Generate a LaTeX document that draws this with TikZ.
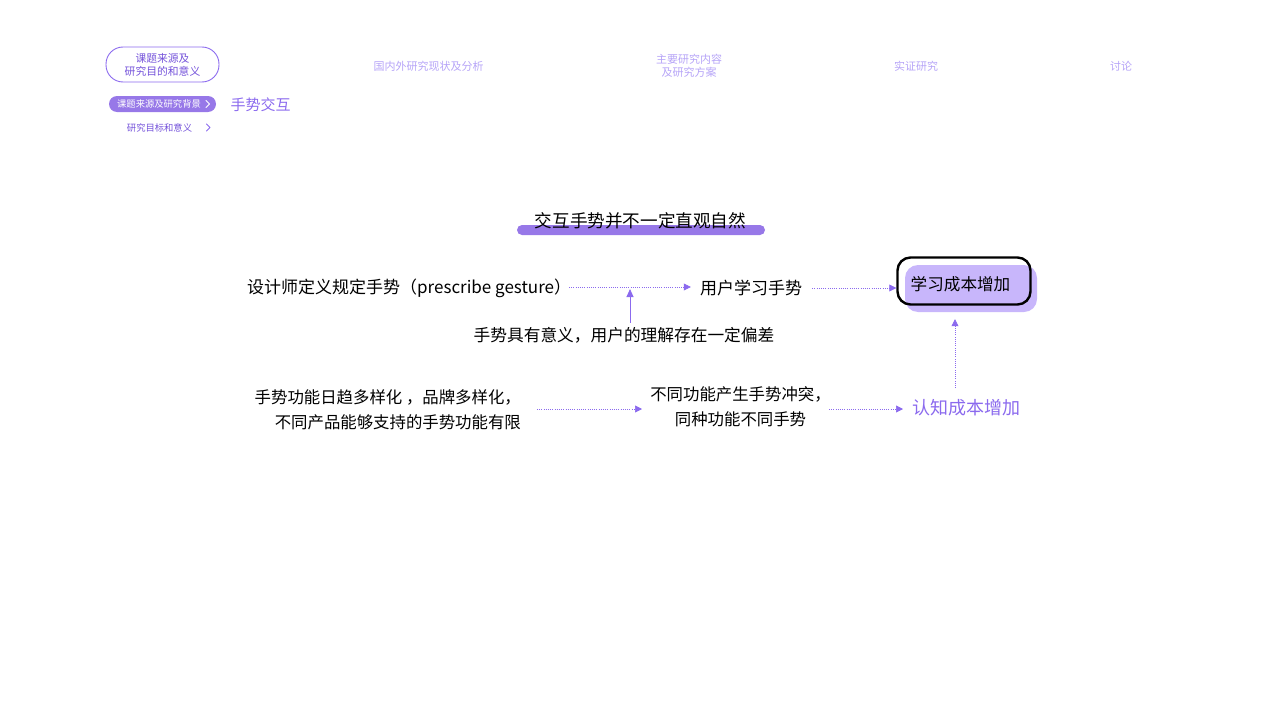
\documentclass[tikz,border=0pt]{standalone}
\usepackage{fontspec}
\setmainfont{Noto Sans CJK SC}
\usetikzlibrary{arrows.meta}
\definecolor{pmain}{HTML}{8B6AEE}
\definecolor{pdark}{HTML}{7452DA}
\definecolor{plight}{HTML}{B6A4F7}
\definecolor{pbar}{HTML}{9778E8}
\definecolor{pfill}{HTML}{C8B6FB}
\tikzset{
  navtxt/.style={text=plight, font=\fontsize{11}{13}\selectfont, align=center, inner sep=0pt},
  bodytxt/.style={text=black, font=\fontsize{17}{25}\selectfont, inner sep=0pt},
  dotarrow/.style={draw=pmain, line width=0.7pt, dash pattern=on 0.8pt off 1.4pt, -{Triangle[length=7pt,width=7pt]}},
  solidarrow/.style={draw=pmain, line width=0.9pt, -{Triangle[length=8pt,width=7pt]}},
  chev/.style={draw=pmain, line width=1pt, line cap=round, line join=round}
}
\begin{document}
\begin{tikzpicture}[x=1pt,y=-1pt]
\useasboundingbox (0,0) rectangle (1280,720);
% top navigation
\node[draw=pmain, line width=0.9pt, rounded corners=17pt, minimum width=113pt, minimum height=35pt, text=pdark, font=\fontsize{10.8}{13}\selectfont, align=center, inner sep=0pt] (nav1) at (162.5,64.5) {课题来源及\\研究目的和意义};
\node[navtxt] (nav2) at (428.5,66) {国内外研究现状及分析};
\node[navtxt] (nav3) at (689,66) {主要研究内容\\及研究方案};
\node[navtxt] (nav4) at (916,66) {实证研究};
\node[navtxt] (nav5) at (1121,66) {讨论};
% sub navigation
\node[fill=pbar, rounded corners=8pt, minimum width=107pt, minimum height=16pt, inner sep=0pt] (sub1) at (162.5,104) {};
\node[text=white, font=\fontsize{9.3}{11}\selectfont, inner sep=0pt] (sub1t) at (159,104) {课题来源及研究背景};
\draw[draw=white, line width=1pt, line cap=round, line join=round] (206,100.5) -- (209.5,104) -- (206,107.5);
\node[text=pmain, font=\fontsize{15}{18}\selectfont, inner sep=0pt] (topic) at (260.5,105) {手势交互};
\node[text=pdark, font=\fontsize{9.3}{11}\selectfont, inner sep=0pt] (sub2) at (159.5,127.5) {研究目标和意义};
\draw[chev] (206.5,124) -- (210,127.5) -- (206.5,131);
% title
\node[fill=pbar, rounded corners=5pt, minimum width=248pt, minimum height=10pt, inner sep=0pt] (bar) at (641,230) {};
\node[bodytxt, font=\fontsize{17.6}{25}\selectfont] (title) at (640.5,221) {交互手势并不一定直观自然};
% row 1
\node[bodytxt, anchor=west] (designer) at (247,288) {设计师定义规定手势（prescribe gesture）};
\node[bodytxt] (learn) at (751,288) {用户学习手势};
\node[fill=pfill, rounded corners=13pt, minimum width=132pt, minimum height=47pt, inner sep=0pt] (shadow) at (971,288.5) {};
\node[draw=black, line width=2.4pt, rounded corners=13pt, minimum width=133pt, minimum height=47pt, inner sep=0pt] (cost) at (964,281) {};
\node[bodytxt, font=\fontsize{16.6}{25}\selectfont, anchor=west] (costt) at (910.5,284) {学习成本增加};
\coordinate (r1) at (569,287);
\draw[dotarrow, shorten >=9pt] (r1) -- (r1 -| learn.west);
\draw[dotarrow, shorten <=10pt] (learn.east) -- (learn.east -| cost.west);
% note with up arrow
\node[bodytxt, font=\fontsize{16.7}{25}\selectfont] (note) at (624,335) {手势具有意义，用户的理解存在一定偏差};
\coordinate (junction) at (630,287);
\draw[solidarrow, shorten <=4pt, shorten >=2pt] (note.north -| junction) -- (junction);
% row 2
\node[bodytxt, font=\fontsize{16.4}{25}\selectfont, align=right, anchor=east] (variety) at (521,410) {手势功能日趋多样化 ，品牌多样化，\\不同产品能够支持的手势功能有限};
\node[bodytxt, font=\fontsize{16.4}{25}\selectfont, align=center] (conflict) at (740.5,407) {不同功能产生手势冲突，\\同种功能不同手势};
\node[text=pmain, font=\fontsize{18}{22}\selectfont, inner sep=0pt, anchor=west] (cog) at (912,408) {认知成本增加};
\coordinate (c1) at (537,409);
\coordinate (c1e) at (642,409);
\coordinate (c2) at (829,409);
\draw[dotarrow] (c1) -- (c1e);
\draw[dotarrow, shorten >=9pt] (c2) -- (c2 -| cog.west);
\coordinate (up) at (955,388);
\draw[dotarrow, shorten >=7pt] (up) -- (up |- shadow.south);
\end{tikzpicture}
\end{document}
